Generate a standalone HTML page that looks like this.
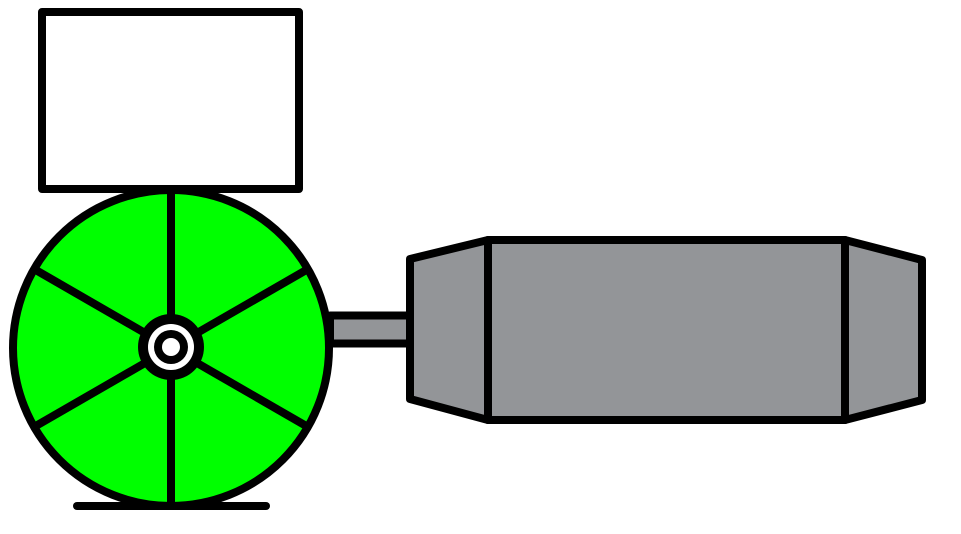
<!DOCTYPE html>
<html><head><style>html,body{margin:0;padding:0;background:#fff}svg{display:block}</style></head>
<body>
<svg width="961" height="534" viewBox="0 0 961 534" xmlns="http://www.w3.org/2000/svg">
<g stroke="#000" stroke-width="8" stroke-linejoin="round">
<rect x="42" y="12" width="257" height="177" fill="#fff"/>
<rect x="330" y="315.5" width="80" height="28" fill="#939598"/>
<circle cx="171" cy="348" r="158" fill="#00ff00"/>
<g stroke-linecap="butt">
<line x1="171" y1="190" x2="171" y2="506"/>
<line x1="34" y1="269" x2="308" y2="427"/>
<line x1="34" y1="427" x2="308" y2="269"/>
</g>
<line x1="77" y1="506" x2="266" y2="506" stroke-linecap="round"/>
<polygon points="410,259 488,240 488,420 410,399" fill="#939598"/>
<rect x="488" y="240" width="357" height="180" fill="#939598"/>
<polygon points="845,240 922,260 922,400 845,420" fill="#939598"/>
</g>
<circle cx="171" cy="347" r="33" fill="#000"/>
<circle cx="171" cy="347" r="23" fill="#fff"/>
<circle cx="171" cy="347" r="17" fill="#000"/>
<circle cx="171" cy="347" r="9" fill="#fff"/>
</svg>
</body></html>
